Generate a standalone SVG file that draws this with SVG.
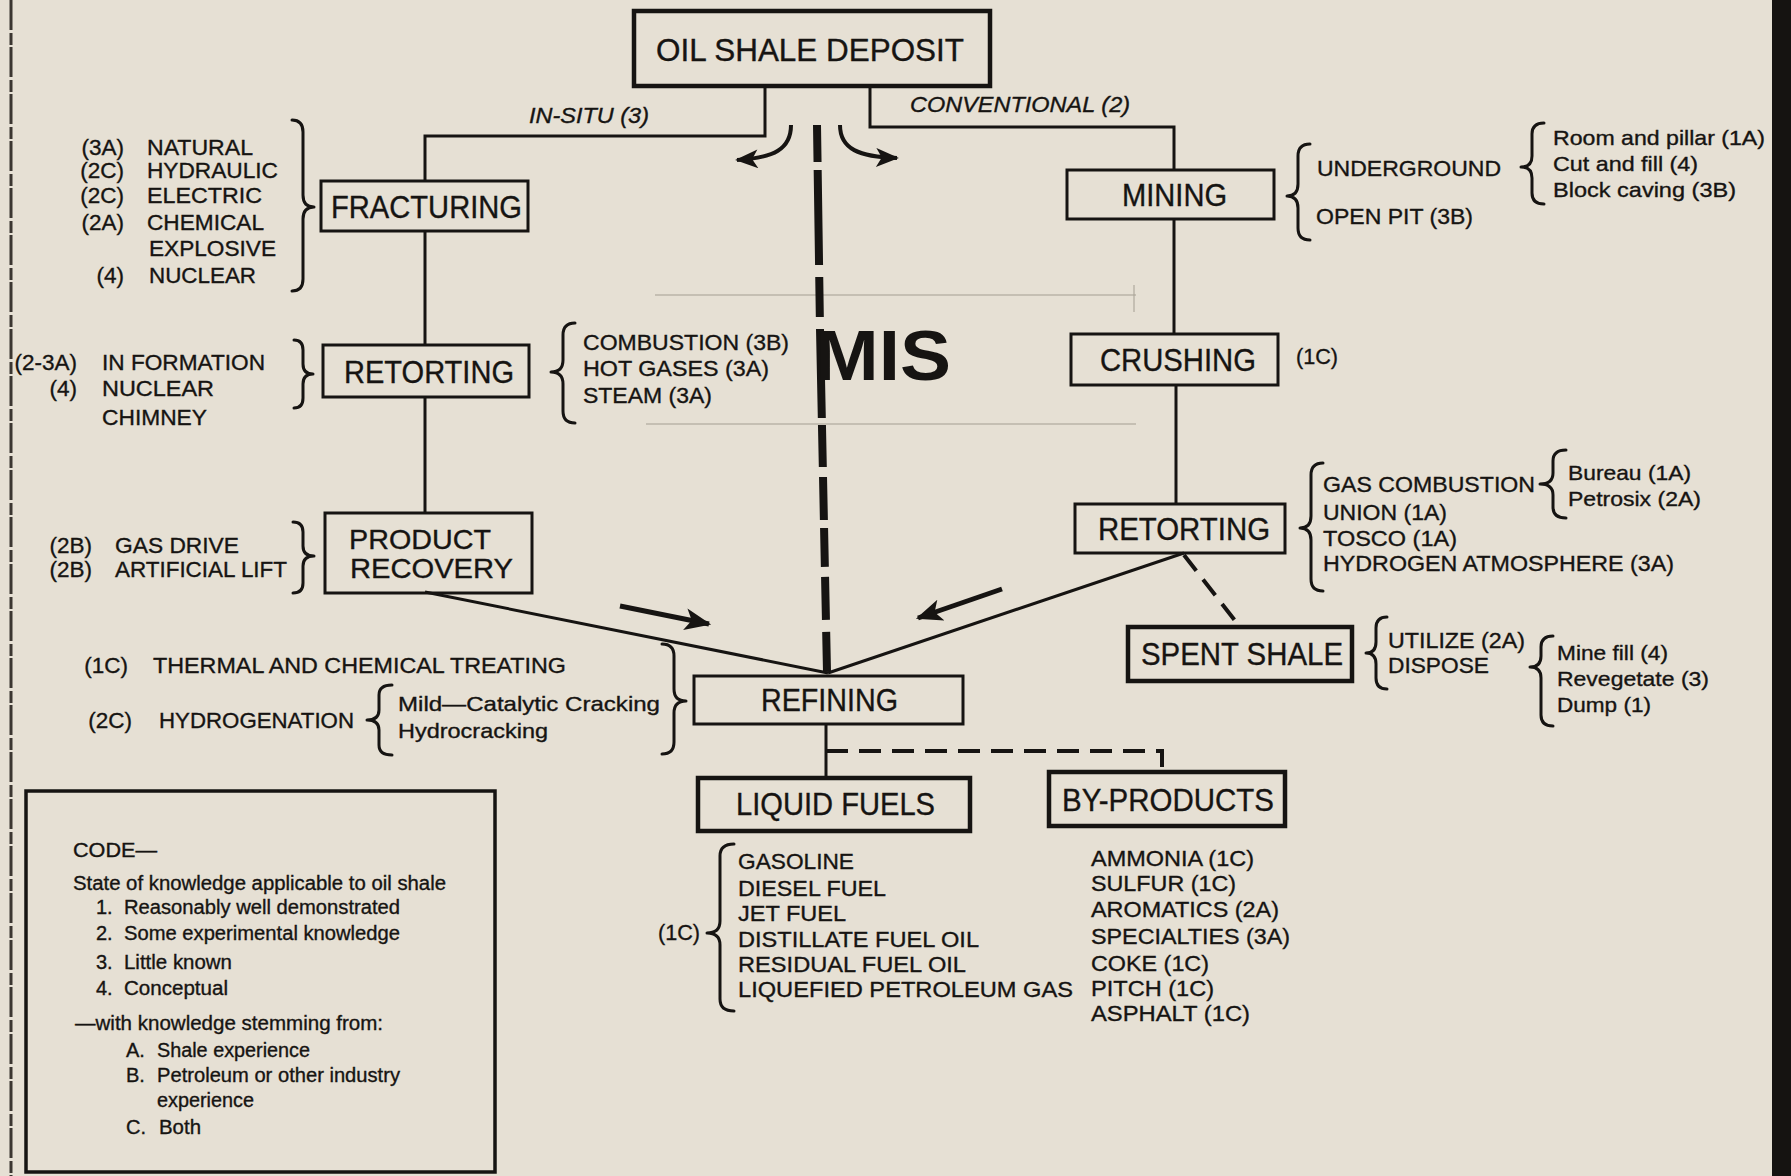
<svg xmlns="http://www.w3.org/2000/svg" width="1791" height="1176" viewBox="0 0 1791 1176">
  <defs>
    <style>
      text { font-family: "Liberation Sans", Arial, Helvetica, sans-serif; fill: #161412; stroke: #161412; stroke-width: 0.35; }
      .lb { font-size: 31px; }
      .lb2 { font-size: 28px; }
      .t { font-size: 22.5px; }
      .s { font-size: 21px; }
      .lg { font-size: 20px; }
      .it { font-size: 22px; font-style: italic; }
      .end { text-anchor: end; }
      .mis { font-size: 70px; font-weight: bold; stroke-width: 0; }
      .box { fill: none; stroke: #161412; stroke-width: 3; }
      .heavy { stroke-width: 4.5; }
      .ln { fill: none; stroke: #161412; stroke-width: 3; }
      .dash { stroke-width: 4; }
      .arc { stroke-width: 4; }
      .shaft { stroke-width: 5; }
      .thick { stroke-width: 8; }
      .br { fill: none; stroke: #161412; stroke-width: 3; stroke-linecap: round; stroke-linejoin: round; }
      .faint { fill: none; stroke: #aaa498; stroke-width: 2; opacity: 0.55; }
    </style>
    <marker id="head" viewBox="0 0 12 10" refX="11" refY="5" markerUnits="userSpaceOnUse" markerWidth="32" markerHeight="22" orient="auto">
      <path d="M0,0 L12,5 L0,10 L3,5 z" fill="#161412"/>
    </marker>
    <marker id="headSm" viewBox="0 0 12 10" refX="11" refY="5" markerUnits="userSpaceOnUse" markerWidth="28" markerHeight="19" orient="auto">
      <path d="M0,0 L12,5 L0,10 L3,5 z" fill="#161412"/>
    </marker>
  </defs>

  <!-- paper -->
  <rect x="0" y="0" width="1791" height="1176" fill="#e6e0d4"/>
  <line x1="11" y1="0" x2="11" y2="1176" stroke="#3b3631" stroke-width="3" stroke-dasharray="30 3 12 2"/>
  <rect x="1772" y="0" width="19" height="1176" fill="#151311"/>

  <!-- faint paste-up outline around the MIS label -->
  <g id="pasteup">
    <line class="faint" x1="655" y1="295" x2="1136" y2="295"/>
    <line class="faint" x1="646" y1="424" x2="1136" y2="424"/>
    <line class="faint" x1="1134" y1="285" x2="1134" y2="312"/>
  </g>

  <!-- connectors -->
  <g id="connectors">
    <polyline class="ln" points="765,86 765,136 425,136 425,181"/>
    <polyline class="ln" points="870,86 870,127 1174,127 1174,170"/>
    <line class="ln" x1="425" y1="231" x2="425" y2="345"/>
    <line class="ln" x1="425" y1="397" x2="425" y2="513"/>
    <line class="ln" x1="1174" y1="219" x2="1174" y2="334"/>
    <line class="ln" x1="1176" y1="385" x2="1176" y2="504"/>
    <line class="ln" x1="425" y1="592" x2="828" y2="673"/>
    <line class="ln" x1="1184" y1="553" x2="828" y2="673"/>
    <line class="ln dash" x1="1184" y1="555" x2="1240" y2="627" stroke-dasharray="20 11"/>
    <line class="ln" x1="826" y1="724" x2="826" y2="778"/>
    <polyline class="ln dash" points="826,751 1162,751 1162,772" stroke-dasharray="22 11"/>
    <!-- modified in-situ path -->
    <path class="ln thick" d="M817,125 L820,329" stroke-dasharray="37 8 95 12 40 12"/>
    <path class="ln thick" d="M820,329 L827,672" stroke-dasharray="89 7 42 10 43 8 39 10 43 12 40"/>
    <!-- branching arrows under the deposit -->
    <path class="ln arc" d="M791,125 C791,149 774,158 737,160" marker-end="url(#headSm)"/>
    <path class="ln arc" d="M840,125 C840,149 859,157 897,158" marker-end="url(#headSm)"/>
    <!-- flow arrows into refining -->
    <line class="ln shaft" x1="620" y1="606" x2="709" y2="624" marker-end="url(#head)"/>
    <line class="ln shaft" x1="1002" y1="589" x2="918" y2="618" marker-end="url(#head)"/>
  </g>

  <!-- branch labels -->
  <g id="branch-labels">
    <text class="it" x="529" y="123" textLength="120" lengthAdjust="spacingAndGlyphs">IN-SITU (3)</text>
    <text class="it" x="910" y="112" textLength="220" lengthAdjust="spacingAndGlyphs">CONVENTIONAL (2)</text>
    <text class="mis" x="815" y="380" textLength="136" lengthAdjust="spacingAndGlyphs">MIS</text>
  </g>

  <!-- nodes -->
  <g id="oil-shale-deposit">
    <rect class="box heavy" x="634" y="11" width="356" height="75"/>
    <text class="lb" x="656" y="61" textLength="308" lengthAdjust="spacingAndGlyphs">OIL SHALE DEPOSIT</text>
  </g>
  <g id="fracturing">
    <rect class="box" x="321" y="181" width="207" height="50"/>
    <text class="lb" x="331" y="218" textLength="191" lengthAdjust="spacingAndGlyphs">FRACTURING</text>
  </g>
  <g id="retorting-insitu">
    <rect class="box" x="323" y="345" width="206" height="52"/>
    <text class="lb" x="344" y="383" textLength="170" lengthAdjust="spacingAndGlyphs">RETORTING</text>
  </g>
  <g id="product-recovery">
    <rect class="box" x="325" y="513" width="207" height="80"/>
    <text class="lb2" x="349" y="549" textLength="142" lengthAdjust="spacingAndGlyphs">PRODUCT</text>
    <text class="lb2" x="350" y="578" textLength="163" lengthAdjust="spacingAndGlyphs">RECOVERY</text>
  </g>
  <g id="mining">
    <rect class="box" x="1067" y="170" width="207" height="49"/>
    <text class="lb" x="1122" y="206" textLength="105" lengthAdjust="spacingAndGlyphs">MINING</text>
  </g>
  <g id="crushing">
    <rect class="box" x="1071" y="334" width="207" height="51"/>
    <text class="lb" x="1100" y="371" textLength="156" lengthAdjust="spacingAndGlyphs">CRUSHING</text>
  </g>
  <g id="retorting-surface">
    <rect class="box" x="1075" y="504" width="210" height="49"/>
    <text class="lb" x="1098" y="540" textLength="172" lengthAdjust="spacingAndGlyphs">RETORTING</text>
  </g>
  <g id="spent-shale">
    <rect class="box heavy" x="1128" y="627" width="224" height="54"/>
    <text class="lb" x="1141" y="665" textLength="202" lengthAdjust="spacingAndGlyphs">SPENT SHALE</text>
  </g>
  <g id="refining">
    <rect class="box" x="694" y="676" width="269" height="48"/>
    <text class="lb" x="761" y="711" textLength="137" lengthAdjust="spacingAndGlyphs">REFINING</text>
  </g>
  <g id="liquid-fuels">
    <rect class="box heavy" x="698" y="778" width="272" height="53"/>
    <text class="lb" x="736" y="815" textLength="199" lengthAdjust="spacingAndGlyphs">LIQUID FUELS</text>
  </g>
  <g id="by-products">
    <rect class="box heavy" x="1049" y="772" width="236" height="54"/>
    <text class="lb" x="1062" y="811" textLength="212" lengthAdjust="spacingAndGlyphs">BY-PRODUCTS</text>
  </g>

  <!-- braces -->
  <g id="braces">
    <path class="br" d="M292,120 Q303,120 303,132 L303,195 Q303,207 314,207 Q303,207 303,219 L303,279 Q303,291 292,291"/>
    <path class="br" d="M294,340 Q303,340 303,350 L303,364 Q303,374 313,374 Q303,374 303,384 L303,398 Q303,408 294,408"/>
    <path class="br" d="M575,323 Q563,323 563,335 L563,360 Q563,372 551,372 Q563,372 563,384 L563,411 Q563,423 575,423"/>
    <path class="br" d="M293,522 Q303,522 303,532 L303,546 Q303,556 314,556 Q303,556 303,566 L303,583 Q303,593 293,593"/>
    <path class="br" d="M392,685 Q379,685 379,695 L379,710 Q379,720 367,720 Q379,720 379,730 L379,745 Q379,755 392,755"/>
    <path class="br" d="M662,644 Q674,644 674,656 L674,689 Q674,701 686,701 Q674,701 674,713 L674,742 Q674,754 662,754"/>
    <path class="br" d="M1310,144 Q1298,144 1298,156 L1298,184 Q1298,196 1287,196 Q1298,196 1298,208 L1298,228 Q1298,240 1310,240"/>
    <path class="br" d="M1544,123 Q1532,123 1532,134 L1532,156 Q1532,167 1521,167 Q1532,167 1532,178 L1532,193 Q1532,204 1544,204"/>
    <path class="br" d="M1323,463 Q1311,463 1311,475 L1311,516 Q1311,528 1300,528 Q1311,528 1311,540 L1311,579 Q1311,591 1323,591"/>
    <path class="br" d="M1566,450 Q1553,450 1553,461 L1553,473 Q1553,484 1540,484 Q1553,484 1553,495 L1553,507 Q1553,518 1566,518"/>
    <path class="br" d="M1387,617 Q1376,617 1376,628 L1376,642 Q1376,653 1366,653 Q1376,653 1376,664 L1376,678 Q1376,689 1387,689"/>
    <path class="br" d="M1553,636 Q1541,636 1541,647 L1541,656 Q1541,667 1530,667 Q1541,667 1541,678 L1541,715 Q1541,726 1553,726"/>
    <path class="br" d="M734,844 Q720,844 720,856 L720,921 Q720,933 707,933 Q720,933 720,945 L720,999 Q720,1011 734,1011"/>
  </g>

  <!-- fracturing methods -->
  <g id="fracturing-notes">
    <text class="t end" x="124" y="155">(3A)</text>
    <text class="t end" x="124" y="178">(2C)</text>
    <text class="t end" x="124" y="203">(2C)</text>
    <text class="t end" x="124" y="230">(2A)</text>
    <text class="t end" x="124" y="283">(4)</text>
    <text class="t" x="147" y="155" textLength="106" lengthAdjust="spacingAndGlyphs">NATURAL</text>
    <text class="t" x="147" y="178" textLength="131" lengthAdjust="spacingAndGlyphs">HYDRAULIC</text>
    <text class="t" x="147" y="203" textLength="115" lengthAdjust="spacingAndGlyphs">ELECTRIC</text>
    <text class="t" x="147" y="230" textLength="117" lengthAdjust="spacingAndGlyphs">CHEMICAL</text>
    <text class="t" x="149" y="256" textLength="127" lengthAdjust="spacingAndGlyphs">EXPLOSIVE</text>
    <text class="t" x="149" y="283" textLength="107" lengthAdjust="spacingAndGlyphs">NUCLEAR</text>
  </g>

  <!-- in-situ retorting notes -->
  <g id="retorting-insitu-notes">
    <text class="t end" x="77" y="370">(2-3A)</text>
    <text class="t end" x="77" y="396">(4)</text>
    <text class="t" x="102" y="370" textLength="163" lengthAdjust="spacingAndGlyphs">IN FORMATION</text>
    <text class="t" x="102" y="396" textLength="112" lengthAdjust="spacingAndGlyphs">NUCLEAR</text>
    <text class="t" x="102" y="425" textLength="105" lengthAdjust="spacingAndGlyphs">CHIMNEY</text>
    <text class="t" x="583" y="350" textLength="206" lengthAdjust="spacingAndGlyphs">COMBUSTION (3B)</text>
    <text class="t" x="583" y="376" textLength="186" lengthAdjust="spacingAndGlyphs">HOT GASES (3A)</text>
    <text class="t" x="583" y="403" textLength="129" lengthAdjust="spacingAndGlyphs">STEAM (3A)</text>
  </g>

  <!-- recovery notes -->
  <g id="recovery-notes">
    <text class="t end" x="92" y="553">(2B)</text>
    <text class="t end" x="92" y="577">(2B)</text>
    <text class="t" x="115" y="553" textLength="124" lengthAdjust="spacingAndGlyphs">GAS DRIVE</text>
    <text class="t" x="115" y="577" textLength="172" lengthAdjust="spacingAndGlyphs">ARTIFICIAL LIFT</text>
  </g>

  <!-- refining notes -->
  <g id="refining-notes">
    <text class="t end" x="128" y="673">(1C)</text>
    <text class="t" x="153" y="673" textLength="413" lengthAdjust="spacingAndGlyphs">THERMAL AND CHEMICAL TREATING</text>
    <text class="t end" x="132" y="728">(2C)</text>
    <text class="t" x="159" y="728" textLength="195" lengthAdjust="spacingAndGlyphs">HYDROGENATION</text>
    <text class="s" x="398" y="711" textLength="262" lengthAdjust="spacingAndGlyphs">Mild—Catalytic Cracking</text>
    <text class="s" x="398" y="738" textLength="150" lengthAdjust="spacingAndGlyphs">Hydrocracking</text>
  </g>

  <!-- mining notes -->
  <g id="mining-notes">
    <text class="t" x="1317" y="176" textLength="184" lengthAdjust="spacingAndGlyphs">UNDERGROUND</text>
    <text class="t" x="1316" y="224" textLength="157" lengthAdjust="spacingAndGlyphs">OPEN PIT (3B)</text>
    <text class="s" x="1553" y="145" textLength="212" lengthAdjust="spacingAndGlyphs">Room and pillar (1A)</text>
    <text class="s" x="1553" y="171" textLength="145" lengthAdjust="spacingAndGlyphs">Cut and fill (4)</text>
    <text class="s" x="1553" y="197" textLength="183" lengthAdjust="spacingAndGlyphs">Block caving (3B)</text>
    <text class="t" x="1296" y="364" textLength="42" lengthAdjust="spacingAndGlyphs">(1C)</text>
  </g>

  <!-- surface retorting notes -->
  <g id="retorting-surface-notes">
    <text class="t" x="1323" y="492" textLength="212" lengthAdjust="spacingAndGlyphs">GAS COMBUSTION</text>
    <text class="t" x="1323" y="520" textLength="124" lengthAdjust="spacingAndGlyphs">UNION (1A)</text>
    <text class="t" x="1323" y="546" textLength="134" lengthAdjust="spacingAndGlyphs">TOSCO (1A)</text>
    <text class="t" x="1323" y="571" textLength="351" lengthAdjust="spacingAndGlyphs">HYDROGEN ATMOSPHERE (3A)</text>
    <text class="s" x="1568" y="480" textLength="123" lengthAdjust="spacingAndGlyphs">Bureau (1A)</text>
    <text class="s" x="1568" y="506" textLength="133" lengthAdjust="spacingAndGlyphs">Petrosix (2A)</text>
  </g>

  <!-- spent shale notes -->
  <g id="spent-shale-notes">
    <text class="t" x="1388" y="648" textLength="137" lengthAdjust="spacingAndGlyphs">UTILIZE (2A)</text>
    <text class="t" x="1388" y="673" textLength="101" lengthAdjust="spacingAndGlyphs">DISPOSE</text>
    <text class="s" x="1557" y="660" textLength="111" lengthAdjust="spacingAndGlyphs">Mine fill (4)</text>
    <text class="s" x="1557" y="686" textLength="152" lengthAdjust="spacingAndGlyphs">Revegetate (3)</text>
    <text class="s" x="1557" y="712" textLength="94" lengthAdjust="spacingAndGlyphs">Dump (1)</text>
  </g>

  <!-- product lists -->
  <g id="liquid-fuels-list">
    <text class="t" x="658" y="940" textLength="42" lengthAdjust="spacingAndGlyphs">(1C)</text>
    <text class="t" x="738" y="869" textLength="116" lengthAdjust="spacingAndGlyphs">GASOLINE</text>
    <text class="t" x="738" y="896" textLength="148" lengthAdjust="spacingAndGlyphs">DIESEL FUEL</text>
    <text class="t" x="738" y="921" textLength="108" lengthAdjust="spacingAndGlyphs">JET FUEL</text>
    <text class="t" x="738" y="947" textLength="241" lengthAdjust="spacingAndGlyphs">DISTILLATE FUEL OIL</text>
    <text class="t" x="738" y="972" textLength="228" lengthAdjust="spacingAndGlyphs">RESIDUAL FUEL OIL</text>
    <text class="t" x="738" y="997" textLength="335" lengthAdjust="spacingAndGlyphs">LIQUEFIED PETROLEUM GAS</text>
  </g>
  <g id="by-products-list">
    <text class="t" x="1091" y="866" textLength="163" lengthAdjust="spacingAndGlyphs">AMMONIA (1C)</text>
    <text class="t" x="1091" y="891" textLength="145" lengthAdjust="spacingAndGlyphs">SULFUR (1C)</text>
    <text class="t" x="1091" y="917" textLength="188" lengthAdjust="spacingAndGlyphs">AROMATICS (2A)</text>
    <text class="t" x="1091" y="944" textLength="199" lengthAdjust="spacingAndGlyphs">SPECIALTIES (3A)</text>
    <text class="t" x="1091" y="971" textLength="118" lengthAdjust="spacingAndGlyphs">COKE (1C)</text>
    <text class="t" x="1091" y="996" textLength="123" lengthAdjust="spacingAndGlyphs">PITCH (1C)</text>
    <text class="t" x="1091" y="1021" textLength="159" lengthAdjust="spacingAndGlyphs">ASPHALT (1C)</text>
  </g>

  <!-- legend -->
  <g id="legend">
    <rect class="box" x="26" y="791" width="469" height="381" style="stroke-width:3.5"/>
    <text class="lg" x="73" y="857" textLength="84" lengthAdjust="spacingAndGlyphs">CODE—</text>
    <text class="lg" x="73" y="890" textLength="373" lengthAdjust="spacingAndGlyphs">State of knowledge applicable to oil shale</text>
    <text class="lg" x="96" y="914">1.</text>
    <text class="lg" x="124" y="914" textLength="276" lengthAdjust="spacingAndGlyphs">Reasonably well demonstrated</text>
    <text class="lg" x="96" y="940">2.</text>
    <text class="lg" x="124" y="940" textLength="276" lengthAdjust="spacingAndGlyphs">Some experimental knowledge</text>
    <text class="lg" x="96" y="969">3.</text>
    <text class="lg" x="124" y="969" textLength="108" lengthAdjust="spacingAndGlyphs">Little known</text>
    <text class="lg" x="96" y="995">4.</text>
    <text class="lg" x="124" y="995" textLength="104" lengthAdjust="spacingAndGlyphs">Conceptual</text>
    <text class="lg" x="75" y="1030" textLength="308" lengthAdjust="spacingAndGlyphs">—with knowledge stemming from:</text>
    <text class="lg" x="126" y="1057">A.</text>
    <text class="lg" x="157" y="1057" textLength="153" lengthAdjust="spacingAndGlyphs">Shale experience</text>
    <text class="lg" x="126" y="1082">B.</text>
    <text class="lg" x="157" y="1082" textLength="243" lengthAdjust="spacingAndGlyphs">Petroleum or other industry</text>
    <text class="lg" x="157" y="1107" textLength="97" lengthAdjust="spacingAndGlyphs">experience</text>
    <text class="lg" x="126" y="1134">C.</text>
    <text class="lg" x="159" y="1134" textLength="42" lengthAdjust="spacingAndGlyphs">Both</text>
  </g>
</svg>
